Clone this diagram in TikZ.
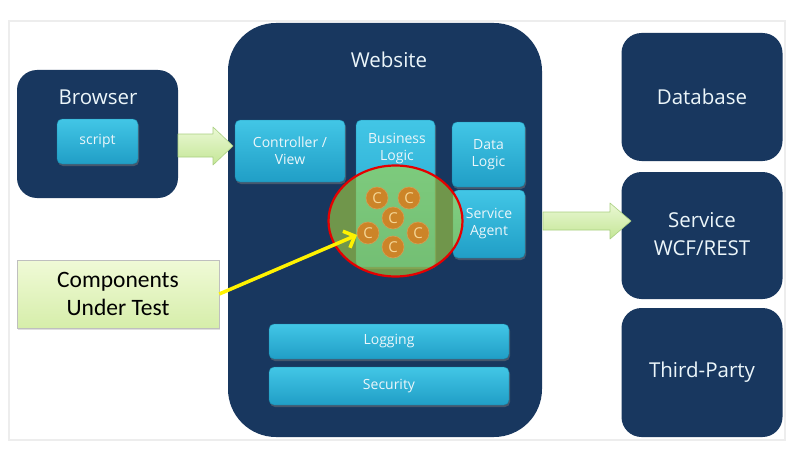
\documentclass[tikz,border=0pt]{standalone}
\usepackage{fontspec}
\setmainfont{Open Sans}
\newfontfamily\calib{Carlito}
\usetikzlibrary{arrows.meta,shadows,shapes.geometric}
\definecolor{navy}{RGB}{24,55,95}
\definecolor{cyanT}{RGB}{66,198,230}
\definecolor{cyanB}{RGB}{32,158,198}
\definecolor{arrT}{RGB}{234,248,212}
\definecolor{arrB}{RGB}{196,230,150}
\definecolor{arrD}{RGB}{170,208,130}
\definecolor{overlay}{RGB}{172,214,62}
\definecolor{coin}{RGB}{204,132,40}
\definecolor{coinT}{RGB}{245,215,150}
\definecolor{cutT}{RGB}{240,250,215}
\definecolor{cutB}{RGB}{214,238,170}
\definecolor{txt}{RGB}{236,246,250}
\tikzset{
  darkbox/.style={fill=navy, rounded corners=20pt, inner sep=0pt, text=txt},
  boxtext/.style={text=txt, font=\fontsize{14}{17}\selectfont, align=center, inner sep=0pt},
  innerbox/.style={boxtext, top color=cyanT, bottom color=cyanB, rounded corners=5pt,
     draw=cyanB!80!black, line width=0.4pt,
     drop shadow={opacity=0.45, shadow xshift=1pt, shadow yshift=-2pt}},
  bigtitle/.style={text=txt, font=\fontsize{20.5}{25}\selectfont, align=center, inner sep=0pt},
  blockarrow/.style={top color=arrT, bottom color=arrB, draw=arrD, line width=0.6pt, line join=round},
  coinnode/.style={circle, fill=coin, draw=coin!80!white, line width=0.6pt, minimum size=22pt,
     inner sep=0pt, text=coinT, font=\fontsize{15}{15}\selectfont}
}
\begin{document}
\begin{tikzpicture}[x=1pt,y=-1pt]
\useasboundingbox (0,0) rectangle (793,452);
\fill[white] (0,0) rectangle (793,452);
\draw[black!7, line width=2pt] (9,21) rectangle (785,440);

% outer dark boxes
\node[darkbox, minimum width=161pt, minimum height=128pt] (browser) at (97.5,134) {};
\node[darkbox, rounded corners=48pt, minimum width=314pt, minimum height=414pt] (website) at (385,230) {};
\node[darkbox, minimum width=161pt, minimum height=128pt] (database) at (702,97) {};
\node[darkbox, minimum width=161pt, minimum height=127pt] (service) at (702,235.5) {};
\node[darkbox, minimum width=161pt, minimum height=129pt] (third) at (702,372.5) {};

\node[bigtitle] (browserT) at (98,97) {Browser};
\node[bigtitle] (websiteT) at (389,60) {Website};
\node[bigtitle] (databaseT) at (702,97) {Database};
\node[bigtitle, font=\fontsize{20.5}{28}\selectfont] (serviceT) at (702,234) {Service\\WCF/REST};
\node[bigtitle] (thirdT) at (702,372) {Third-Party};

% inner boxes
\node[innerbox, minimum width=81pt, minimum height=45pt] (script) at (97.5,141.5) {script};
\node[innerbox, minimum width=110pt, minimum height=62pt] (ctrl) at (290,151) {Controller /\\View};
\node[innerbox, minimum width=79pt, minimum height=147pt] (biz) at (395.5,193.5) {};
\node[boxtext] (bizT) at (397,149) {Business\\Logic};
\node[innerbox, minimum width=73pt, minimum height=65pt] (data) at (488.5,154.5) {Data\\Logic};
\node[innerbox, minimum width=72pt, minimum height=68pt] (agent) at (489,224) {Service\\Agent};
\node[innerbox, minimum width=240pt, minimum height=35pt] (logging) at (389,341.5) {Logging};
\node[innerbox, minimum width=240pt, minimum height=38pt] (security) at (389,386) {Security};

% block arrows
\path[blockarrow] (178,134) -- (213,134) -- (213,127) -- (233,146) -- (213,165) -- (213,157) -- (178,157) -- cycle;
\path[blockarrow] (543,212) -- (610,212) -- (610,203) -- (631,221) -- (610,239) -- (610,230) -- (543,230) -- cycle;

% focus ellipse overlay
\node[ellipse, fill=overlay, fill opacity=0.6, draw=red!90!black, draw opacity=1, line width=2.2pt,
      minimum width=134pt, minimum height=111pt, inner sep=0pt] (focus) at (395.5,221) {};

% components
\node[coinnode] (c1) at (377,198) {C};
\node[coinnode] (c2) at (409,198) {C};
\node[coinnode] (c3) at (393,218) {C};
\node[coinnode] (c4) at (368,233) {C};
\node[coinnode] (c5) at (418,233) {C};
\node[coinnode] (c6) at (393,247) {C};

% components under test
\node[top color=cutT, bottom color=cutB, draw=black!25, line width=0.5pt,
      minimum width=202pt, minimum height=68pt, align=center, inner sep=0pt,
      font=\calib\fontsize{23.5}{28}\selectfont,
      drop shadow={opacity=0.25, shadow xshift=1pt, shadow yshift=-1.5pt}] (cut) at (118,294) {Components\\Under Test};

\coordinate (tip) at (357,235);
\draw[yellow, line width=3.5pt, -{Straight Barb[length=9pt, width=18pt, line width=3.5pt]}] (cut.east) -- (tip);
\end{tikzpicture}
\end{document}
